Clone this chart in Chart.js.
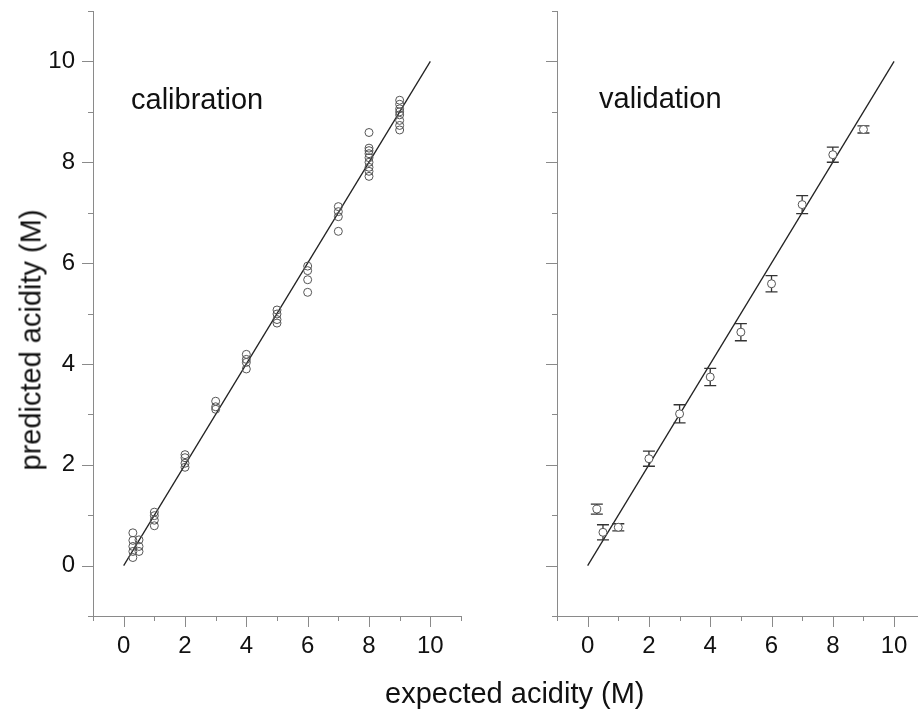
<!DOCTYPE html>
<html>
<head>
<meta charset="utf-8">
<title>Acidity calibration / validation</title>
<script src="https://cdn.jsdelivr.net/npm/chart.js@4.4.0/dist/chart.umd.min.js"></script>
<style>
    html, body { margin: 0; padding: 0; background: #fff; overflow: hidden; }
    body { width: 918px; height: 714px; position: relative; font-family: 'Liberation Sans', Arial, sans-serif; color: #111; }
    .panel { position: absolute; top: 0; height: 714px; }
    #leftPanel { left: 0; width: 480px; }
    #rightPanel { left: 480px; width: 438px; }
    .txt { position: absolute; font-size: 29px; line-height: 29px; white-space: nowrap; }
    #calNote { left: 131px; top: 85px; }
    #valNote { left: 599px; top: 84px; }
    #xTitle { left: 385px; top: 679px; }
    #yTitle { left: 31px; top: 340px; transform: translate(-50%, -50%) rotate(-90deg); }
</style>
</head>
<body>
<div class="panel" id="leftPanel"><canvas id="calChart"></canvas></div>
<div class="panel" id="rightPanel"><canvas id="valChart"></canvas></div>
<div class="txt" id="calNote">calibration</div>
<div class="txt" id="valNote">validation</div>
<div class="txt" id="xTitle">expected acidity (M)</div>
<div class="txt" id="yTitle">predicted acidity (M)</div>

<script>
// ========================================
// DATA
// ========================================

// calibration: every replicate as its own point
const calExpected = [
    0.3, 0.3, 0.3, 0.3, 0.3,
    0.5, 0.5, 0.5,
    1, 1, 1, 1,
    2, 2, 2, 2,
    3, 3, 3,
    4, 4, 4, 4,
    5, 5, 5, 5,
    6, 6, 6, 6,
    7, 7, 7, 7,
    8, 8, 8, 8, 8, 8, 8, 8, 8,
    9, 9, 9, 9, 9, 9, 9, 9
];
const calPredicted = [
    0.65, 0.50, 0.38, 0.28, 0.16,
    0.51, 0.38, 0.28,
    1.06, 0.99, 0.90, 0.79,
    2.20, 2.14, 2.03, 1.95,
    3.26, 3.15, 3.10,
    4.19, 4.09, 4.03, 3.90,
    5.07, 4.99, 4.88, 4.81,
    5.94, 5.85, 5.67, 5.42,
    7.12, 7.02, 6.92, 6.63,
    8.59, 8.28, 8.23, 8.17, 8.09, 8.00, 7.90, 7.82, 7.72,
    9.23, 9.15, 9.06, 9.00, 8.94, 8.83, 8.73, 8.64
];

// validation: mean and error bar half-width
const valExpected  = [0.3, 0.5, 1, 2, 3, 4, 5, 6, 7, 8, 9];
const valPredicted = [1.12, 0.66, 0.76, 2.12, 3.01, 3.74, 4.63, 5.59, 7.16, 8.15, 8.65];
const valError     = [0.10, 0.15, 0.07, 0.15, 0.18, 0.17, 0.17, 0.16, 0.18, 0.15, 0.07];

// ideal y = x line
const idealX = [0, 10];
const idealY = [0, 10];

// axis ticks (odd ones are minor, unlabelled)
const axisTicks = [-1, 0, 1, 2, 3, 4, 5, 6, 7, 8, 9, 10, 11];
const labelTicks = [0, 2, 4, 6, 8, 10];

// ========================================
// PLUGINS
// ========================================

// outward tick marks, long for labelled values, short for the rest
const tickMarks = {
    id: 'tickMarks',
    afterDraw(chart) {
        const ctx = chart.ctx;
        const area = chart.chartArea;
        ctx.save();
        ctx.strokeStyle = '#8a8a8a';
        ctx.lineWidth = 1;
        ctx.beginPath();
        ['x', 'y'].forEach(id => {
            const scale = chart.scales[id];
            scale.ticks.forEach(t => {
                const len = labelTicks.includes(t.value) ? 11 : 5;
                const p = Math.round(scale.getPixelForValue(t.value)) + 0.5;
                if (id === 'x') {
                    ctx.moveTo(p, area.bottom);
                    ctx.lineTo(p, area.bottom + len);
                } else {
                    ctx.moveTo(area.left - len, p);
                    ctx.lineTo(area.left, p);
                }
            });
        });
        ctx.stroke();
        ctx.restore();
    }
};

// vertical error bars with caps, drawn just before the points
const errorBars = {
    id: 'errorBars',
    beforeDatasetDraw(chart, args) {
        const ds = chart.data.datasets[args.index];
        if (!ds.errors) return;
        const ctx = chart.ctx;
        const xs = chart.scales.x;
        const ys = chart.scales.y;
        ctx.save();
        ctx.strokeStyle = '#333';
        ctx.lineWidth = 1.3;
        ctx.beginPath();
        ds.data.forEach((pt, i) => {
            const px = xs.getPixelForValue(pt.x);
            const top = ys.getPixelForValue(pt.y + ds.errors[i]);
            const bot = ys.getPixelForValue(pt.y - ds.errors[i]);
            ctx.moveTo(px, top);
            ctx.lineTo(px, bot);
            ctx.moveTo(px - 6, top);
            ctx.lineTo(px + 6, top);
            ctx.moveTo(px - 6, bot);
            ctx.lineTo(px + 6, bot);
        });
        ctx.stroke();
        ctx.restore();
    }
};

// ========================================
// CHART SETUP
// ========================================

function toPoints(xs, ys) {
    return xs.map((x, i) => ({ x: x, y: ys[i] }));
}

function buildScale(axis, max, size, showLabels) {
    return {
        type: 'linear',
        min: -1,
        max: max,
        afterBuildTicks: s => {
            s.ticks = axisTicks.filter(v => v <= max).map(v => ({ value: v }));
        },
        afterFit: s => {
            if (axis === 'x') s.height = size; else s.width = size;
            s.paddingTop = 0;
            s.paddingBottom = 0;
            s.paddingLeft = 0;
            s.paddingRight = 0;
        },
        grid: { display: false, drawTicks: false },
        border: { display: true, color: '#8a8a8a', width: 1 },
        ticks: {
            autoSkip: false,
            maxRotation: 0,
            padding: axis === 'x' ? 16 : 18,
            color: '#111',
            font: { family: "'Liberation Sans', Arial, sans-serif", size: 24 },
            callback: v => (showLabels && labelTicks.includes(v)) ? String(v) : ''
        }
    };
}

function makePanel(canvasId, points, pointFill, errors, xMax, yWidth, showYLabels, padRight) {
    const pointSet = {
        label: 'points',
        data: points,
        pointStyle: 'circle',
        pointRadius: 4,
        pointBorderWidth: 1,
        pointBorderColor: '#555',
        pointBackgroundColor: pointFill,
        showLine: false
    };
    if (errors) pointSet.errors = errors;

    return new Chart(document.getElementById(canvasId), {
        type: 'scatter',
        data: {
            datasets: [
                pointSet,
                {
                    label: 'y = x',
                    data: toPoints(idealX, idealY),
                    showLine: true,
                    borderColor: '#222',
                    borderWidth: 1.3,
                    pointRadius: 0
                }
            ]
        },
        options: {
            responsive: true,
            maintainAspectRatio: false,
            animation: false,
            layout: {
                autoPadding: false,
                padding: { top: 11, right: padRight, bottom: 0, left: 0 }
            },
            plugins: {
                legend: { display: false },
                tooltip: { enabled: false }
            },
            scales: {
                x: buildScale('x', xMax, 98, true),
                y: buildScale('y', 11, yWidth, showYLabels)
            }
        },
        plugins: [tickMarks, errorBars]
    });
}

makePanel('calChart', toPoints(calExpected, calPredicted), 'rgba(0,0,0,0)', null, 11, 93, true, 19);
makePanel('valChart', toPoints(valExpected, valPredicted), '#fff', valError, 10.78, 77, false, 0);
</script>
</body>
</html>
